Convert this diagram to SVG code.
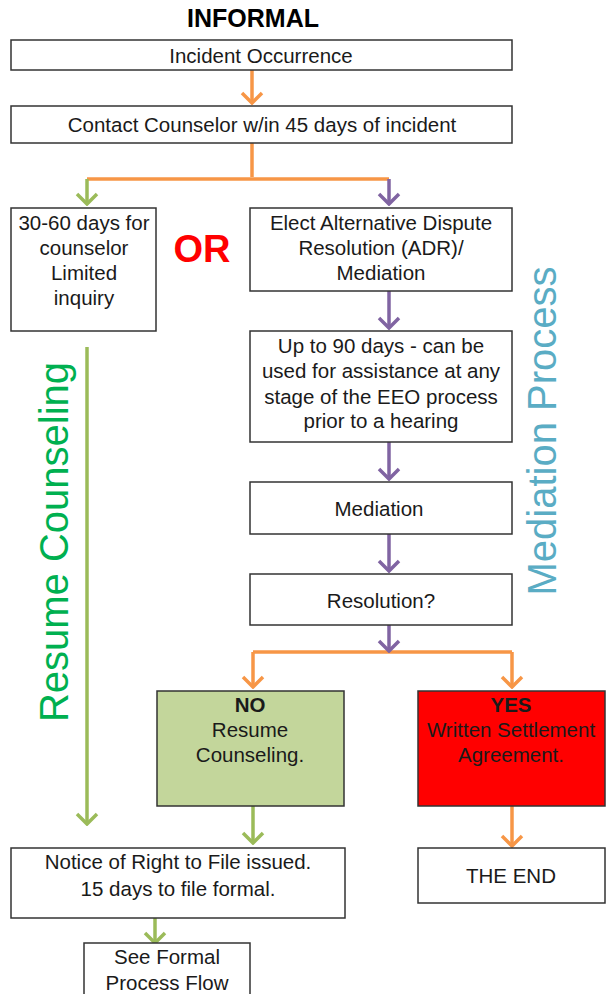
<svg xmlns="http://www.w3.org/2000/svg" width="606" height="994" viewBox="0 0 606 994">
<defs>
<style>
.box{fill:#fff;stroke:#333;stroke-width:1.5}
.t{font-family:"Liberation Sans",Arial,sans-serif;font-size:20.5px;fill:#1a1a1a;text-anchor:middle}
.b{font-weight:bold}
.c{fill:none;stroke-width:3.5}
.o{stroke:#F79646}.g{stroke:#9BBB59}.p{stroke:#8064A2}
</style>
<marker id="ao" viewBox="-12 -12 14 24" refX="0" refY="0" markerWidth="14" markerHeight="24" markerUnits="userSpaceOnUse" orient="auto"><path d="M-10,-10 L0,0 L-10,10" fill="none" stroke="#F79646" stroke-width="3.5"/></marker>
<marker id="ag" viewBox="-12 -12 14 24" refX="0" refY="0" markerWidth="14" markerHeight="24" markerUnits="userSpaceOnUse" orient="auto"><path d="M-10,-10 L0,0 L-10,10" fill="none" stroke="#9BBB59" stroke-width="3.5"/></marker>
<marker id="ap" viewBox="-12 -12 14 24" refX="0" refY="0" markerWidth="14" markerHeight="24" markerUnits="userSpaceOnUse" orient="auto"><path d="M-10,-10 L0,0 L-10,10" fill="none" stroke="#8064A2" stroke-width="3.5"/></marker>
</defs>
<rect width="606" height="994" fill="#fff"/>
<text x="253" y="27" class="t b" style="font-size:25px;fill:#000">INFORMAL</text>
<text transform="translate(68,542) rotate(-90)" class="t" style="font-size:40px;fill:#00B050">Resume Counseling</text>
<text transform="translate(556,431) rotate(-90)" class="t" style="font-size:40px;fill:#5AACC4">Mediation Process</text>
<g id="connectors">
<path class="c o" d="M252,70 V103" marker-end="url(#ao)"/>
<path class="c o" d="M252,143 V177"/>
<path class="c o" d="M87,179 H389"/>
<path class="c g" d="M87,179 V204" marker-end="url(#ag)"/>
<path class="c p" d="M389,179 V204" marker-end="url(#ap)"/>
<path class="c p" d="M389,291 V328" marker-end="url(#ap)"/>
<path class="c p" d="M389,442 V479" marker-end="url(#ap)"/>
<path class="c p" d="M389,534 V571" marker-end="url(#ap)"/>
<path class="c o" d="M253,652 H512"/>
<path class="c p" d="M389,625 V651" marker-end="url(#ap)"/>
<path class="c o" d="M253,652 V687" marker-end="url(#ao)"/>
<path class="c o" d="M512,652 V687" marker-end="url(#ao)"/>
<path class="c g" d="M87,347 V824" marker-end="url(#ag)"/>
<path class="c g" d="M253,806 V843" marker-end="url(#ag)"/>
<path class="c o" d="M512,806 V846" marker-end="url(#ao)"/>
<path class="c g" d="M155,918 V943" marker-end="url(#ag)"/>
</g>
<g id="incident"><rect class="box" x="11" y="40" width="501" height="30"/><text class="t" x="261" y="63">Incident Occurrence</text></g>
<g id="contact"><rect class="box" x="11" y="106" width="501" height="37"/><text class="t" x="262" y="132">Contact Counselor w/in 45 days of incident</text></g>
<g id="counselor"><rect class="box" x="11" y="208" width="145" height="123"/>
<text class="t" x="84" y="230">30-60 days for</text><text class="t" x="84" y="255">counselor</text><text class="t" x="84" y="280">Limited</text><text class="t" x="84" y="305">inquiry</text></g>
<text x="202" y="262" class="t b" style="font-size:38px;fill:#FF0000">OR</text>
<g id="adr"><rect class="box" x="250" y="208" width="262" height="83"/>
<text class="t" x="381" y="230">Elect Alternative Dispute</text><text class="t" x="381" y="255">Resolution (ADR)/</text><text class="t" x="381" y="280">Mediation</text></g>
<g id="upto90"><rect class="box" x="250" y="331" width="262" height="111"/>
<text class="t" x="381" y="353">Up to 90 days - can be</text><text class="t" x="381" y="378">used for assistance at any</text><text class="t" x="381" y="404">stage of the EEO process</text><text class="t" x="381" y="428">prior to a hearing</text></g>
<g id="mediation"><rect class="box" x="250" y="482" width="262" height="52"/><text class="t" x="379" y="516">Mediation</text></g>
<g id="resolution"><rect class="box" x="250" y="574" width="262" height="51"/><text class="t" x="381" y="608">Resolution?</text></g>
<g id="no"><rect class="box" x="157" y="691" width="187" height="115" style="fill:#C3D69B"/>
<text class="t b" x="250" y="712">NO</text><text class="t" x="250" y="737">Resume</text><text class="t" x="250" y="762">Counseling.</text></g>
<g id="yes"><rect class="box" x="418" y="691" width="187" height="115" style="fill:#FF0000"/>
<text class="t b" x="511" y="712">YES</text><text class="t" x="511" y="737">Written Settlement</text><text class="t" x="511" y="762">Agreement.</text></g>
<g id="notice"><rect class="box" x="11" y="848" width="334" height="70"/>
<text class="t" x="178" y="869">Notice of Right to File issued.</text><text class="t" x="178" y="896">15 days to file formal.</text></g>
<g id="end"><rect class="box" x="418" y="848" width="187" height="55"/><text class="t" x="511" y="883">THE END</text></g>
<g id="formal"><rect class="box" x="84" y="943" width="166" height="60"/>
<text class="t" x="167" y="964">See Formal</text><text class="t" x="167" y="990">Process Flow</text></g>
</svg>
